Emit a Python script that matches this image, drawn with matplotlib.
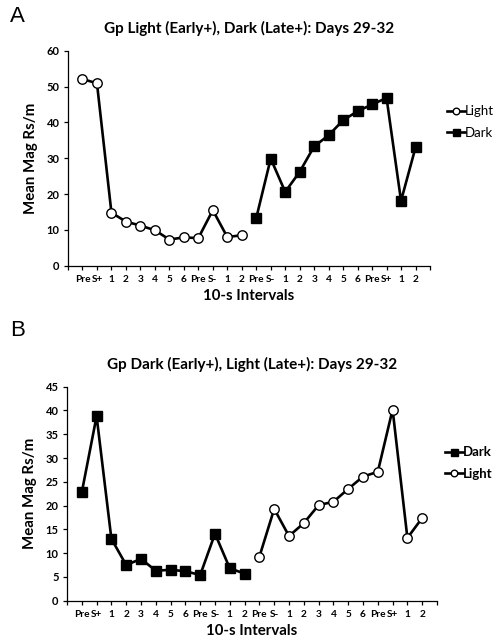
import matplotlib
matplotlib.use("Agg")
import matplotlib.pyplot as plt
from matplotlib.lines import Line2D

plt.rcParams['font.family'] = ['Lato', 'DejaVu Sans']

# shared x categories (two blocks of 12)
tick_labels = ["Pre", "S+", "1", "2", "3", "4", "5", "6", "Pre", "S-", "1", "2",
               "Pre", "S-", "1", "2", "3", "4", "5", "6", "Pre", "S+", "1", "2"]
first_x = list(range(1, 13))
second_x = list(range(13, 25))

# panel A
a_light = [52.1, 50.9, 14.8, 12.3, 11.2, 9.9, 7.3, 7.9, 7.7, 15.5, 8.0, 8.5]
a_dark = [13.3, 29.9, 20.6, 26.2, 33.3, 36.4, 40.6, 43.1, 45.0, 46.8, 18.1, 33.0]

# panel B
b_dark = [22.8, 38.8, 13.0, 7.5, 8.8, 6.3, 6.5, 6.2, 5.4, 14.1, 6.8, 5.7]
b_light = [9.25, 19.3, 13.6, 16.3, 20.1, 20.8, 23.5, 26.1, 27.1, 40.2, 13.2, 17.4]

W, H = 497, 643
fig = plt.figure(figsize=(W / 100, H / 100), dpi=100)

light_style = dict(color="black", lw=1.9, marker="o", ms=6.8,
                   markerfacecolor="white", markeredgecolor="black", mew=1.0)
dark_style = dict(color="black", lw=1.9, marker="s", ms=7.2,
                  markerfacecolor="black", markeredgecolor="black")


def setup_axes(ax, ymax, ystep, title):
    ax.set_xlim(0, 25)
    ax.set_ylim(0, ymax)
    ax.set_yticks(range(0, ymax + 1, ystep))
    ax.set_xticks(range(0, 26))
    ax.set_xticklabels([""] + tick_labels + [""])
    for side in ["top", "right"]:
        ax.spines[side].set_visible(False)
    for side in ["left", "bottom"]:
        ax.spines[side].set_linewidth(0.9)
    ax.tick_params(axis="both", direction="out", length=3, width=0.9, pad=3)
    ax.tick_params(axis="x", labelsize=7.3, pad=4)
    ax.tick_params(axis="y", labelsize=8.0)
    for lab in ax.get_xticklabels() + ax.get_yticklabels():
        lab.set_fontweight("bold")
    ax.set_title(title, fontsize=11, fontweight="bold", pad=12.5)
    ax.set_ylabel("Mean Mag Rs/m", fontsize=10.8, fontweight="bold", labelpad=6)
    ax.set_xlabel("10-s Intervals", fontsize=10.8, fontweight="bold", labelpad=3)


def add_legend(ax, handles, labels, x, y, bold):
    leg = ax.legend(handles, labels, loc="center left",
                    bbox_to_anchor=(x, y), frameon=False, fontsize=9.5,
                    handlelength=1.35, handletextpad=0.0, labelspacing=0.75,
                    markerscale=0.7, borderaxespad=0, borderpad=0)
    if bold:
        for t in leg.get_texts():
            t.set_fontweight("bold")


# Panel A
axA = fig.add_axes([68 / W, (H - 265.7) / H, 362 / W, 215 / H])
axA.plot(first_x, a_light, **light_style)
axA.plot(second_x, a_dark, **dark_style)
setup_axes(axA, 60, 10, "Gp Light (Early+), Dark (Late+): Days 29-32")
add_legend(axA, [Line2D([], [], **light_style), Line2D([], [], **dark_style)],
           ["Light", "Dark"], 1.047, 0.668, False)

# Panel B
axB = fig.add_axes([67 / W, (H - 600.7) / H, 370 / W, 214 / H])
axB.plot(first_x, b_dark, **dark_style)
axB.plot(second_x, b_light, **light_style)
setup_axes(axB, 45, 5, "Gp Dark (Early+), Light (Late+): Days 29-32")
add_legend(axB, [Line2D([], [], **dark_style), Line2D([], [], **light_style)],
           ["Dark", "Light"], 1.022, 0.643, True)

fig.text(10 / W, 1 - 16 / H, "A", fontsize=16, va="center", ha="left",
         family="Liberation Sans")
fig.text(10 / W, 1 - 330 / H, "B", fontsize=16, va="center", ha="left",
         family="Liberation Sans")

fig.savefig("out.png", dpi=100)
